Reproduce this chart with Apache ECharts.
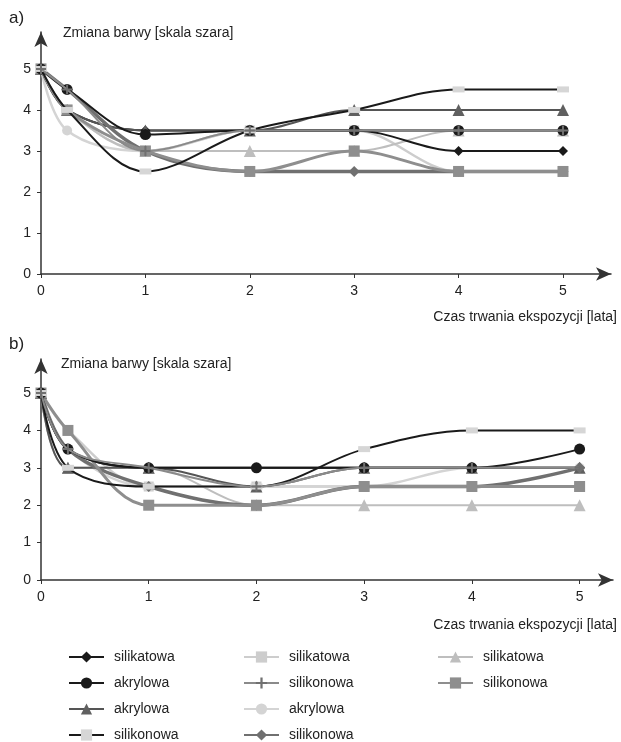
<!DOCTYPE html>
<html><head><meta charset="utf-8">
<script src="https://cdn.jsdelivr.net/npm/echarts@6/dist/echarts.min.js"></script>
<style>html,body{margin:0;padding:0;background:#fff}#c{width:621px;height:742px}</style>
</head><body><div id="c"></div>
<script>
// ---- data ----
const years = [0, 0.25, 1, 2, 3, 4, 5];
const xTicks = [0, 1, 2, 3, 4, 5];
const yTicks = [0, 1, 2, 3, 4, 5];
const legendLabels = ['silikatowa','akrylowa','akrylowa','silikonowa','silikatowa','silikonowa','akrylowa','silikonowa','silikatowa','silikonowa'];
// panel a)
const a1 = [5, 4, 3.5, 3.5, 3.5, 3, 3];
const a2 = [5, 4.5, 3.4, 3.5, 3.5, 3.5, 3.5];
const a3 = [5, 4, 3.5, 3.5, 4, 4, 4];
const a4 = [5, 4, 2.5, 3.5, 4, 4.5, 4.5];
const a5 = [5, 4, 3, 3.5, 3.5, 2.5, 2.5];
const a6 = [5, 4.5, 3, 3.5, 3.5, 3.5, 3.5];
const a7 = [5, 3.5, 3, 3.5, 3.5, 3.5, 3.5];
const a8 = [5, 4.5, 3, 2.5, 2.5, 2.5, 2.5];
const a9 = [5, 4, 3, 3, 3, 3.5, 3.5];
const a10 = [5, 4, 3, 2.5, 3, 2.5, 2.5];
// panel b)
const b1 = [5, 3.5, 3, 3, 3, 3, 3];
const b2 = [5, 3.5, 3, 3, 3, 3, 3.5];
const b3 = [5, 3, 3, 2.5, 3, 3, 3];
const b4 = [5, 3, 2.5, 2.5, 3.5, 4, 4];
const b5 = [5, 4, 2.5, 2.5, 2.5, 2.5, 2.5];
const b6 = [5, 3.5, 3, 2.5, 3, 3, 3];
const b7 = [5, 3.5, 2.5, 2.5, 2.5, 3, 3];
const b8 = [5, 3.5, 2.5, 2, 2.5, 2.5, 3];
const b9 = [5, 3, 3, 2, 2, 2, 2];
const b10 = [5, 4, 2, 2, 2.5, 2.5, 2.5];

const panelA = [a1,a2,a3,a4,a5,a6,a7,a8,a9,a10];
const panelB = [b1,b2,b3,b4,b5,b6,b7,b8,b9,b10];

// ---- styles ----
const FONT = '"Liberation Sans", Arial, sans-serif';
const TXT = '#222';
const plusPath = 'path://M4,0L6,0L6,4L10,4L10,6L6,6L6,10L4,10L4,6L0,6L0,4L4,4Z';
const styles = [
  {fill:'#1a1a1a', line:'#1a1a1a', w:2,   symbol:'diamond',  size:10, z:3},
  {fill:'#1a1a1a', line:'#1a1a1a', w:2,   symbol:'circle',   size:11, z:4},
  {fill:'#606060', line:'#555555', w:2,   symbol:'triangle', size:12, z:3},
  {fill:'#d6d6d6', line:'#1a1a1a', w:2,   symbol:'rect',     size:[12,6], z:4},
  {fill:'#cdcdcd', line:'#cdcdcd', w:2.5, symbol:'rect',     size:10, z:2},
  {fill:'#707070', line:'#8a8a8a', w:2,   symbol:plusPath,   size:10, z:5},
  {fill:'#d4d4d4', line:'#d4d4d4', w:2.5, symbol:'circle',   size:10, z:2},
  {fill:'#707070', line:'#707070', w:3.5, symbol:'diamond',  size:11, z:3},
  {fill:'#bebebe', line:'#bebebe', w:2,   symbol:'triangle', size:12, z:2},
  {fill:'#8e8e8e', line:'#8e8e8e', w:3,   symbol:'rect',     size:11, z:3}
];
// unique internal names so each legend entry keeps its own style
const names = legendLabels.map((n, i) => n + '\u200b'.repeat(legendLabels.slice(0, i).filter(m => m === n).length));

function makeSeries(panel, gi) {
  return panel.map((vals, i) => ({
    type: 'line', name: names[i], xAxisIndex: gi, yAxisIndex: gi, z: styles[i].z,
    data: years.map((x, k) => [x, vals[k]]),
    smooth: 0.35, smoothMonotone: 'none',
    symbol: styles[i].symbol, symbolSize: styles[i].size, showAllSymbol: true,
    itemStyle: {color: styles[i].fill, borderWidth: 0},
    lineStyle: {color: styles[i].line, width: styles[i].w},
    emphasis: {disabled: true}, animation: false
  }));
}

function xAx(gi, max) {
  return {type:'value', gridIndex:gi, min:0, max:max,
    axisLine:{show:true, onZero:false, symbol:['none','arrow'], symbolSize:[10,15], lineStyle:{color:'#333', width:1.5}},
    axisTick:{show:true, length:4, customValues:xTicks, lineStyle:{color:'#333', width:1}},
    axisLabel:{customValues:xTicks, margin:10, color:TXT, fontSize:14, fontFamily:FONT},
    splitLine:{show:false}};
}
function yAx(gi, max) {
  return {type:'value', gridIndex:gi, min:0, max:max,
    axisLine:{show:true, onZero:false, symbol:['none','arrow'], symbolSize:[10,15], lineStyle:{color:'#333', width:1.5}},
    axisTick:{show:true, length:4, customValues:yTicks, lineStyle:{color:'#333', width:1}},
    axisLabel:{customValues:yTicks, margin:10, color:TXT, fontSize:14, fontFamily:FONT},
    splitLine:{show:false}};
}
function legend(left, idx) {
  return {orient:'vertical', left:left, top:649, height:110, width:170, padding:0,
    itemWidth:35, itemHeight:14, itemGap:10,
    data: idx.map(i => names[i]), selectedMode:false,
    formatter: n => n.replace(/\u200b/g, ''),
    textStyle:{color:TXT, fontSize:14, fontFamily:FONT, lineHeight:16, padding:[0,0,0,5]}};
}
function txt(left, top, s, size) {
  return {type:'text', left:left, top:top, style:{text:s, fill:TXT, font: size + 'px ' + FONT}};
}

const chart = echarts.init(document.getElementById('c'), null, {renderer:'canvas'});
chart.setOption({
  backgroundColor:'#fff', animation:false,
  grid:[{left:41, right:10, top:32, bottom:468}, {left:41, right:8, top:359, bottom:162}],
  xAxis:[xAx(0, 5.46), xAx(1, 5.31)],
  yAxis:[yAx(0, 5.9), yAx(1, 5.91)],
  legend:[legend(68,[0,1,2,3]), legend(243,[4,5,6,7]), legend(437,[8,9])],
  graphic:[
    txt(9, 10, 'a)', 17), txt(9, 336, 'b)', 17),
    txt(63, 26, 'Zmiana barwy [skala szara]', 14),
    txt(61, 357, 'Zmiana barwy [skala szara]', 14),
    {type:'text', right:4, top:310, style:{text:'Czas trwania ekspozycji [lata]', fill:TXT, font:'14px ' + FONT}},
    {type:'text', right:4, top:618, style:{text:'Czas trwania ekspozycji [lata]', fill:TXT, font:'14px ' + FONT}}
  ],
  series: makeSeries(panelA, 0).concat(makeSeries(panelB, 1))
});
</script></body></html>
